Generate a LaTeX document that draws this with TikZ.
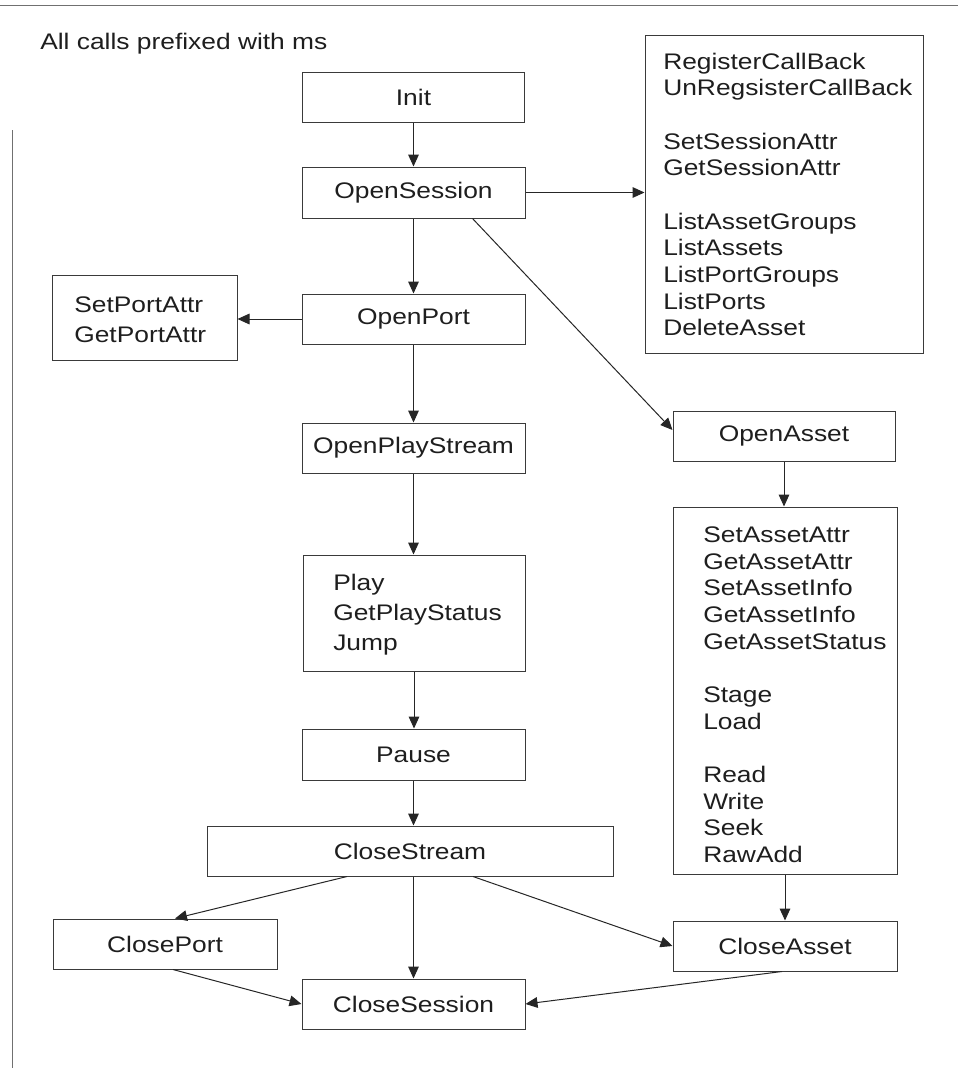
\documentclass[tikz,border=0pt]{standalone}
\usepackage{fontspec}
\newfontfamily\dfont[FakeStretch=1.17]{Liberation Sans}
\usetikzlibrary{arrows.meta,calc}
\definecolor{boxc}{HTML}{3A3A3A}
\definecolor{txtc}{HTML}{1E1E1E}
\definecolor{arrc}{HTML}{262626}
\definecolor{framec}{HTML}{707070}
\begin{document}
\begin{tikzpicture}[x=0.75pt,y=-0.75pt,
  box/.style 2 args={draw=boxc, line width=0.75pt, inner sep=0pt,
    minimum width=#1*0.75pt, minimum height=#2*0.75pt,
    font=\dfont\fontsize{16.9}{20}\selectfont, text=txtc},
  lst/.style={inner sep=0pt, align=left, anchor=north west,
    font=\dfont\fontsize{16.9}{20}\selectfont, text=txtc},
  lstw/.style={lst, font=\dfont\fontsize{16.9}{22.5}\selectfont},
  arr/.style={draw=arrc, line width=0.75pt, -{Triangle[length=9pt,width=8pt]}},
  framel/.style={draw=framec, line width=0.75pt},
]
\useasboundingbox (0,0) rectangle (958,1068);
\draw[framel] (0,5) -- (958,5);
\draw[framel] (12,130) -- (12,1068);

\node[inner sep=0pt, anchor=base west, font=\dfont\fontsize{16.9}{20}\selectfont, text=txtc] (title) at (40,49) {All calls prefixed with ms};

\node[box={222}{50}] (init) at (413.5,97) {Init};
\node[box={223}{51}] (opensession) at (413.5,192.5) {OpenSession};
\node[box={278}{318}] (sessbox) at (784,194) {};
\node[lst] (sesstxt) at (663,52.6) {RegisterCallBack\\UnRegsisterCallBack\\[20pt]SetSessionAttr\\GetSessionAttr\\[20pt]ListAssetGroups\\ListAssets\\ListPortGroups\\ListPorts\\DeleteAsset};

\node[box={223}{50}] (openport) at (413.5,319) {OpenPort};
\node[box={185}{85}] (portattr) at (144.5,317.5) {};
\node[lstw] (porttxt) at (74,296.6) {SetPortAttr\\GetPortAttr};

\node[box={223}{50}] (openplay) at (413.5,448) {OpenPlayStream};
\node[box={222}{116}] (play) at (414,613) {};
\node[lstw] (playtxt) at (333,573.6) {Play\\GetPlayStatus\\Jump};
\node[box={223}{51}] (pause) at (413.5,754.5) {Pause};
\node[box={406}{50}] (closestream) at (410,851) {CloseStream};

\node[box={222}{50}] (openasset) at (784,436) {OpenAsset};
\node[box={224}{367}] (asset) at (785,690.5) {};
\node[lst] (assettxt) at (703,526.6) {SetAssetAttr\\GetAssetAttr\\SetAssetInfo\\GetAssetInfo\\GetAssetStatus\\[20pt]Stage\\Load\\[20pt]Read\\Write\\Seek\\RawAdd};

\node[box={224}{50}] (closeport) at (165,944) {ClosePort};
\node[box={224}{50}] (closeasset) at (785,946) {CloseAsset};
\node[box={223}{50}] (closesession) at (413.5,1004) {CloseSession};

\draw[arr] (init) -- (opensession);
\draw[arr] (opensession.east) -- (opensession.east -| sessbox.west);
\draw[arr] (opensession) -- (openport);
\draw[arr] (openport.west) -- (openport.west -| portattr.east);
\draw[arr] (openport) -- (openplay);
\draw[arr] ([xshift=-39.75pt]opensession.south east) -- ([yshift=4.5pt]openasset.west);
\draw[arr] (openplay) -- (openplay.south |- play.north);
\draw[arr] (play.south) -- (play.south |- pause.north);
\draw[arr] (pause.south) -- (pause.south |- closestream.north);
\draw[arr] (openasset.south) -- (openasset.south |- asset.north);
\draw[arr] (asset.south) -- (asset.south |- closeasset.north);
\draw[arr] ([xshift=-47.25pt]closestream.south) -- ([xshift=7.5pt]closeport.north);
\draw[arr] (closestream.south -| closesession.north) -- (closesession.north);
\draw[arr] ([xshift=47.25pt]closestream.south) -- (closeasset.west);
\draw[arr] ([xshift=6pt]closeport.south) -- (closesession.west);
\draw[arr] ([xshift=-2.25pt]closeasset.south) -- (closesession.east);
\end{tikzpicture}
\end{document}
